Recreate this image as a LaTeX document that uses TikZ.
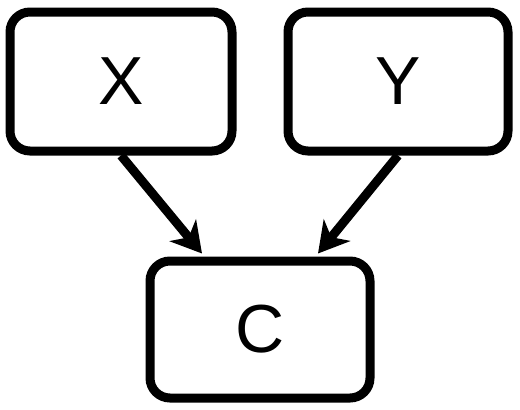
\documentclass[tikz,border=0pt]{standalone}
\usepackage{fontspec}
\setmainfont{Liberation Sans}
\usetikzlibrary{arrows.meta}
\begin{document}
\begin{tikzpicture}[x=1pt, y=-1pt,
    box/.style={draw, line width=9pt, rounded corners=20pt, minimum height=139pt,
        font=\fontsize{68}{80}\selectfont},
    link/.style={line width=9pt, -{Stealth[length=30pt, width=34pt, inset=9pt]}}]

    % fixed frame
    \useasboundingbox (0,0) rectangle (520,410);

    % the three boxes
    \node[box, minimum width=222pt] (X) at (121,81.5) {X}; % left box
    \node[box, minimum width=220pt] (Y) at (398,81.5) {Y}; % right box
    \node[box, minimum width=220pt, minimum height=137pt] (C) at (260,329.5) {C}; % bottom box

    % arrows into C
    \draw[link] (X.south) -- ([xshift=-58pt, yshift=3pt]C.north);
    \draw[link] (Y.south) -- ([xshift=58pt, yshift=3pt]C.north);

\end{tikzpicture}
\end{document}
